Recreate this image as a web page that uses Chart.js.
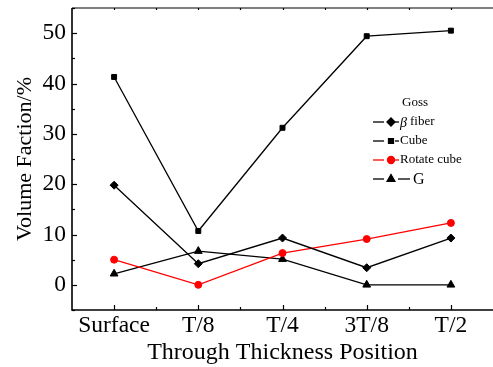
<!DOCTYPE html>
<html>
<head>
<meta charset="utf-8">
<script src="https://cdn.jsdelivr.net/npm/chart.js@4/dist/chart.umd.min.js"></script>
<style>
  html, body { margin: 0; padding: 0; background: #fff; overflow: hidden; }
  #wrap { position: relative; width: 493px; height: 367px; }
</style>
</head>
<body>
<div id="wrap"><canvas id="myChart"></canvas></div>
<script>
const positions = ["Surface", "T/8", "T/4", "3T/8", "T/2"];
const betaFiber = [19.8, 4.2, 9.3, 3.4, 9.3];
const cube = [41.3, 10.7, 31.2, 49.4, 50.5];
const rotateCube = [5.0, 0.0, 6.3, 9.1, 12.3];
const gSeries = [2.2, 6.7, 5.1, 0.0, 0.0];
const yTicks = [0, 10, 20, 30, 40, 50];

const serif = "'Liberation Serif', 'Times New Roman', serif";

// frame, inward ticks and the Origin-style legend
const framePlugin = {
  id: "frame",
  afterDatasetsDraw(chart) {
    const ctx = chart.ctx;
    const a = chart.chartArea;
    const x = chart.scales.x;
    const y = chart.scales.y;
    ctx.save();
    ctx.strokeStyle = "#000";
    ctx.lineWidth = 1.6;
    ctx.beginPath();
    ctx.moveTo(a.left, a.top);
    ctx.lineTo(a.left, a.bottom);
    ctx.lineTo(a.right, a.bottom);
    ctx.stroke();
    ctx.lineWidth = 1.2;
    ctx.beginPath();
    ctx.moveTo(a.left, a.top);
    ctx.lineTo(a.right, a.top);
    ctx.stroke();

    // y ticks
    ctx.lineWidth = 1.2;
    for (let v = -5; v <= 55; v += 5) {
      const py = Math.round(y.getPixelForValue(v)) + 0.5;
      const len = v % 10 === 0 ? 5 : 3;
      ctx.beginPath();
      ctx.moveTo(a.left, py);
      ctx.lineTo(a.left + len, py);
      ctx.stroke();
    }
    // x ticks
    for (let i = 0; i < positions.length; i++) {
      const px = Math.round(x.getPixelForValue(i)) + 0.5;
      ctx.beginPath();
      ctx.moveTo(px, a.bottom);
      ctx.lineTo(px, a.bottom - 5);
      ctx.moveTo(px, a.top);
      ctx.lineTo(px, a.top + 2);
      ctx.stroke();
      if (i < positions.length - 1) {
        const mx = Math.round((x.getPixelForValue(i) + x.getPixelForValue(i + 1)) / 2) + 0.5;
        ctx.beginPath();
        ctx.moveTo(mx, a.bottom);
        ctx.lineTo(mx, a.bottom - 3);
        ctx.moveTo(mx, a.top);
        ctx.lineTo(mx, a.top + 2);
        ctx.stroke();
      }
    }

    // legend
    const lx = a.left + 301;
    const ly = a.top + 95;
    ctx.fillStyle = "#000";
    ctx.font = "13px " + serif;
    ctx.textBaseline = "middle";
    ctx.textAlign = "left";
    ctx.fillText("Goss", lx + 29, ly);
    const items = [
      { label: "fiber", beta: true, color: "#000", style: "rectRot", r: 4 },
      { label: "Cube", color: "#000", style: "rect", r: 3.5 },
      { label: "Rotate cube", color: "#ff0000", style: "circle", r: 3.5 },
      { label: "G", color: "#000", style: "triangle", r: 4.5, big: true }
    ];
    items.forEach((it, k) => {
      const ry = ly + 19 + k * 19;
      ctx.strokeStyle = it.color;
      ctx.fillStyle = it.color;
      ctx.lineWidth = 1.3;
      ctx.beginPath();
      ctx.moveTo(lx, ry);
      ctx.lineTo(lx + 11, ry);
      ctx.stroke();
      Chart.helpers.drawPoint(ctx, { pointStyle: it.style, radius: it.r, borderWidth: 1, rotation: 0 }, lx + 18, ry);
      ctx.fill();
      ctx.beginPath();
      if (it.big) {
        ctx.moveTo(lx + 25, ry);
        ctx.lineTo(lx + 37, ry);
      } else {
        ctx.moveTo(lx + 22, ry);
        ctx.lineTo(lx + 26, ry);
      }
      ctx.stroke();
      ctx.fillStyle = "#000";
      if (it.big) {
        ctx.font = "16px " + serif;
        ctx.fillText(it.label, lx + 40, ry + 1);
      } else if (it.beta) {
        ctx.font = "italic 14px " + serif;
        ctx.fillText("\u03b2", lx + 27, ry + 1);
        ctx.font = "13px " + serif;
        ctx.fillText(it.label, lx + 37, ry);
      } else {
        ctx.font = "13px " + serif;
        ctx.fillText(it.label, lx + 27, ry);
      }
    });
    ctx.restore();
  }
};

function series(label, data, color, style, radius) {
  return {
    label: label,
    data: data,
    borderColor: color,
    backgroundColor: color,
    pointBackgroundColor: color,
    pointBorderColor: color,
    pointStyle: style,
    pointRadius: radius,
    pointBorderWidth: 1,
    borderWidth: 1.3,
    tension: 0,
    fill: false,
    clip: false
  };
}

const ctx = document.getElementById("myChart").getContext("2d");

const config = {
  type: "line",
  data: {
    labels: positions,
    datasets: [
      series("\u03b2 fiber", betaFiber, "#000", "rectRot", 4),
      series("Cube", cube, "#000", "rect", 3.5),
      series("Rotate cube", rotateCube, "#ff0000", "circle", 3.5),
      series("G", gSeries, "#000", "triangle", 4.5)
    ]
  },
  options: {
    responsive: true,
    maintainAspectRatio: false,
    animation: false,
    layout: { autoPadding: false, padding: { top: 8, right: 0, bottom: 0, left: 0 } },
    plugins: {
      legend: { display: false },
      tooltip: { enabled: false }
    },
    scales: {
      x: {
        offset: true,
        grid: { display: false, drawTicks: false },
        border: { display: false },
        ticks: {
          color: "#000",
          font: { family: serif, size: 23.5 },
          padding: 2,
          maxRotation: 0,
          autoSkip: false
        },
        title: {
          display: true,
          text: "Through Thickness Position",
          color: "#000",
          font: { family: serif, size: 24 },
          padding: { top: 0, bottom: 0 }
        },
        afterFit(scale) {
          scale.height = 57;
          scale.paddingLeft = 0;
          scale.paddingRight = 0;
        }
      },
      y: {
        min: -5,
        max: 55,
        grid: { display: false, drawTicks: false },
        border: { display: false },
        afterBuildTicks(scale) {
          scale.ticks = yTicks.map(v => ({ value: v }));
        },
        ticks: {
          color: "#000",
          font: { family: serif, size: 23.5 },
          padding: 6
        },
        title: {
          display: true,
          text: "Volume Faction/%",
          color: "#000",
          font: { family: serif, size: 22 },
          padding: { top: 12, bottom: 0 }
        },
        afterFit(scale) {
          scale.width = 72;
          scale.paddingTop = 0;
          scale.paddingBottom = 0;
        }
      }
    }
  },
  plugins: [framePlugin]
};

const volumeChart = new Chart(ctx, config);
</script>
</body>
</html>
